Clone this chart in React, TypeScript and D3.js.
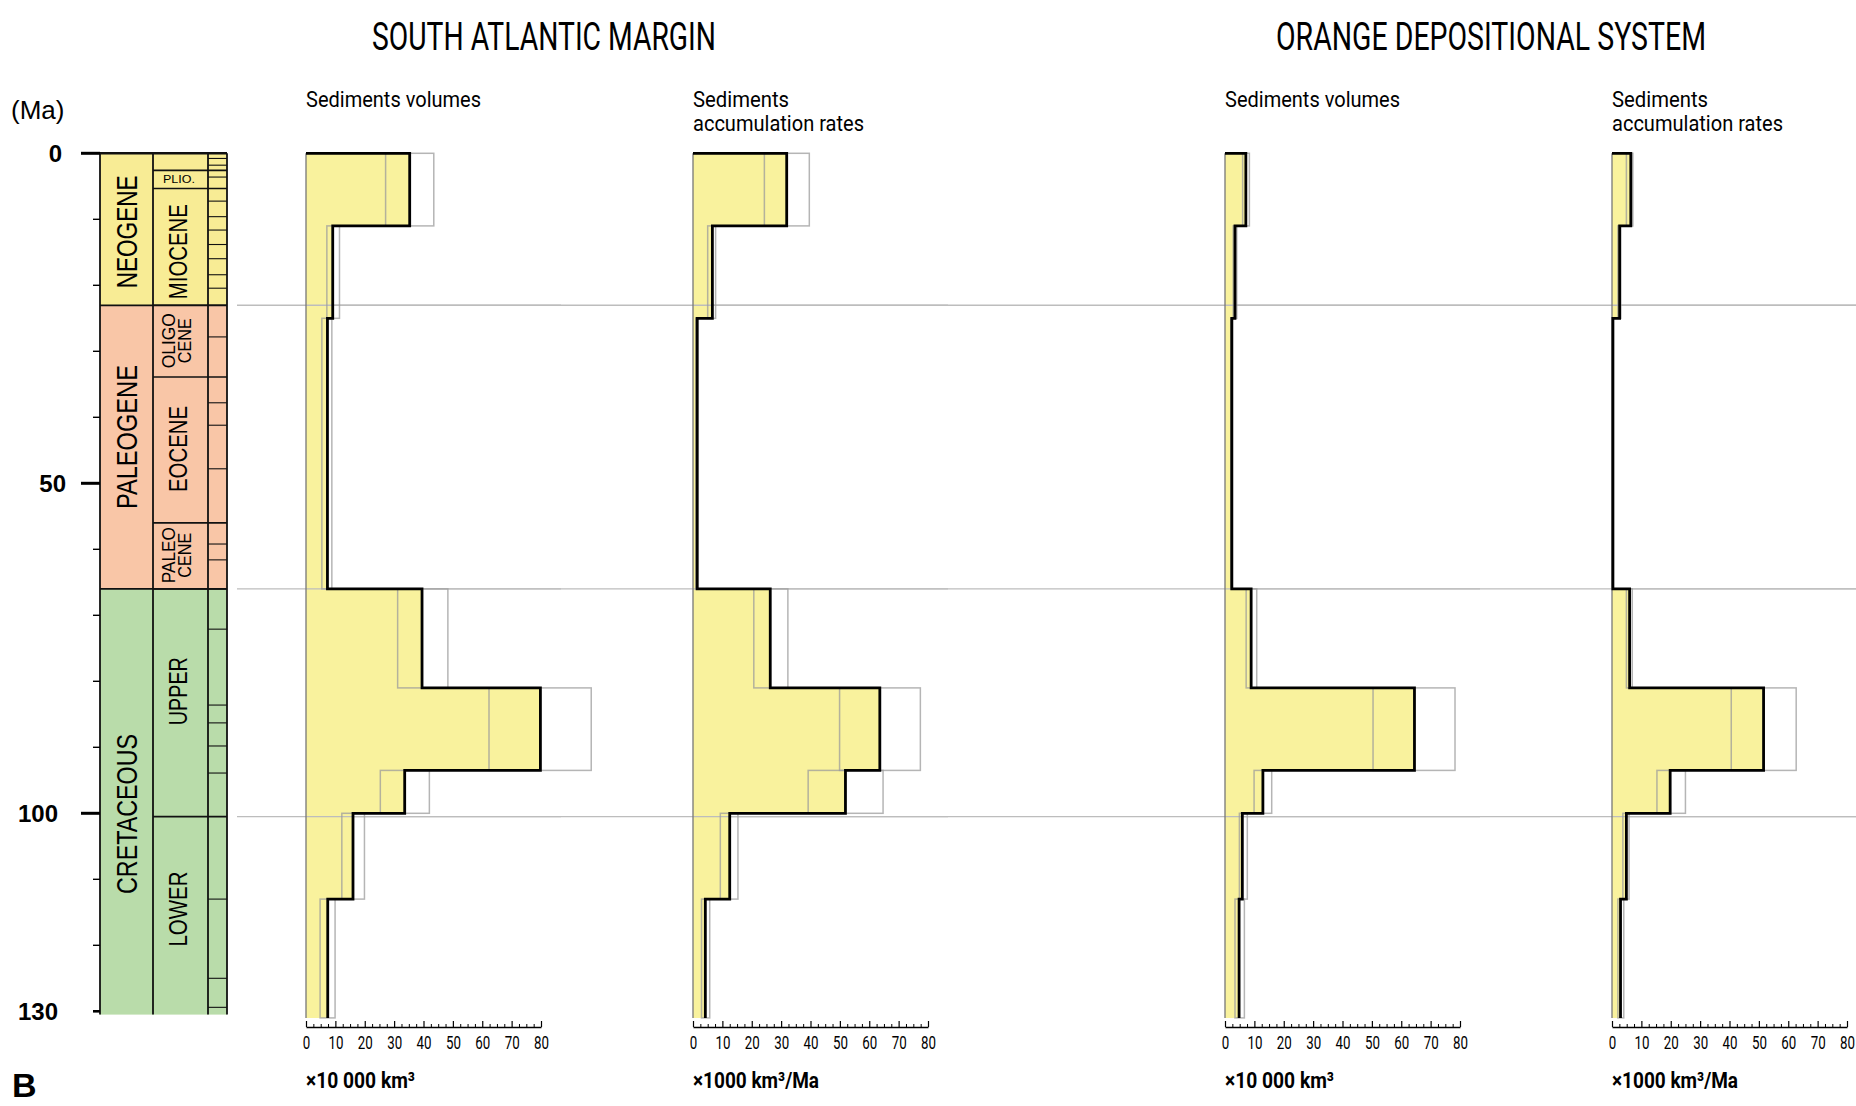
import React, { useEffect, useRef } from 'react';
import * as d3 from 'd3';

const W = 1856, H = 1106;

// ---- geological time scale (Ma) ----
const periodNames = ['NEOGENE', 'PALEOGENE', 'CRETACEOUS'];
const periodBounds = [0, 23.03, 66, 130.5];
const periodColors = ['#F8EC95', '#F9C6A7', '#B9DCAA'];
const periodLabelMa = [11.9, 43, 100.1];
const periodLabelLen = [113, 144, 160];

const epochNames = ['', 'PLIO.', 'MIOCENE', 'OLIGO|CENE', 'EOCENE', 'PALEO|CENE', 'UPPER', 'LOWER'];
const epochBounds = [0, 2.58, 5.333, 23.03, 33.9, 56, 66, 100.5, 130.5];
const epochLabelMa = [1.3, 3.95, 14.9, 28.4, 44.8, 60.9, 81.5, 114.5];
const epochLabelLen = [0, 32, 95, 55, 86, 56, 68, 75];

const stageBounds = [0.781, 1.8, 3.6, 7.246, 9.6, 11.63, 13.82, 15.97, 18.4, 20.44,
  27.82, 37.8, 41.2, 47.8, 59.2, 61.6, 72.1, 83.6, 86.3, 89.8, 93.9, 113, 125, 129.4];

const ageMajor = [0, 50, 100];
const ageMinor = [10, 20, 30, 40, 60, 70, 80, 90, 110, 120];
const ageLabels = ['0', '50', '100', '130'];
const ageLabelValues = [0, 50, 100, 130];
const boundaryLines = [23.03, 66, 100.5];

// ---- sediment bins (Ma) ----
const binTop = [0, 11, 25, 66, 81, 93.5, 100, 113];
const binBase = [11, 25, 66, 81, 93.5, 100, 113, 131];

// South Atlantic margin
const samVolMain = [35.3, 9.1, 7.3, 39.5, 79.8, 33.6, 16.0, 7.4];
const samVolMin = [27.1, 7.1, 5.4, 31.2, 62.3, 25.3, 12.2, 4.8];
const samVolMax = [43.5, 11.4, 8.8, 48.3, 97.1, 42.0, 19.9, 9.9];
const samRateMain = [31.9, 6.6, 1.4, 26.3, 63.6, 51.9, 12.5, 4.2];
const samRateMin = [24.3, 5.0, 1.0, 20.7, 49.9, 39.2, 9.3, 2.9];
const samRateMax = [39.6, 7.7, 1.8, 32.3, 77.4, 64.7, 15.3, 5.7];

// Orange depositional system
const odsVolMain = [7.1, 3.4, 2.3, 8.9, 64.5, 12.9, 5.9, 4.8];
const odsVolMin = [6.0, 2.8, 2.0, 7.2, 50.4, 9.9, 4.9, 3.4];
const odsVolMax = [8.3, 4.0, 2.6, 10.8, 78.3, 15.9, 7.6, 6.6];
const odsRateMain = [6.4, 2.6, 0.3, 6.0, 51.6, 19.8, 4.9, 2.9];
const odsRateMin = [4.9, 2.0, 0.2, 4.9, 40.6, 15.3, 3.7, 2.0];
const odsRateMax = [7.1, 3.0, 0.5, 6.9, 62.7, 25.0, 5.8, 4.0];

const xTicks = [0, 10, 20, 30, 40, 50, 60, 70, 80];
const xMinorTicks = d3.range(0, 80.1, 2.5).filter(v => v % 10 !== 0);

const groupTitles = ['SOUTH ATLANTIC MARGIN', 'ORANGE DEPOSITIONAL SYSTEM'];
const volTitle = ['Sediments volumes'];
const rateTitle = ['Sediments', 'accumulation rates'];
const volUnit = '×10 000 km³';
const rateUnit = '×1000 km³/Ma';

const panels = [
  { x0: 306, title: volTitle, unit: volUnit, main: samVolMain, min: samVolMin, max: samVolMax },
  { x0: 693, title: rateTitle, unit: rateUnit, main: samRateMain, min: samRateMin, max: samRateMax },
  { x0: 1225, title: volTitle, unit: volUnit, main: odsVolMain, min: odsVolMin, max: odsVolMax },
  { x0: 1612, title: rateTitle, unit: rateUnit, main: odsRateMain, min: odsRateMin, max: odsRateMax },
];

const COND = 'Roboto, "Open Sans", sans-serif';
const ARIAL = '"Liberation Sans", Arial, sans-serif';

const y = d3.scaleLinear().domain([0, 130]).range([153.3, 1011.3]);
const colX = [100, 153, 208, 227];
const axisY = 1027;

function Panel({ p }: { p: typeof panels[0] }) {
  const axRef = useRef<SVGGElement>(null);
  const minorRef = useRef<SVGGElement>(null);
  const x = d3.scaleLinear().domain([0, 80]).range([p.x0, p.x0 + 235]);

  useEffect(() => {
    const ax = d3.select(axRef.current);
    ax.selectAll('*').remove();
    ax.call(d3.axisBottom(x).tickValues(xTicks).tickSize(-6).tickSizeOuter(0).tickPadding(9).tickFormat(d3.format('d')) as any);
    ax.select('.domain').attr('stroke', '#000').attr('stroke-width', 1.3);
    ax.selectAll('.tick line').attr('stroke', '#000').attr('stroke-width', 1.2);
    ax.selectAll('.tick text')
      .attr('font-family', COND).attr('font-size', 18).attr('fill', '#000')
      .attr('transform', 'scale(0.74,1)');
    const mn = d3.select(minorRef.current);
    mn.selectAll('*').remove();
    mn.call(d3.axisBottom(x).tickValues(xMinorTicks).tickSize(-3).tickSizeOuter(0).tickFormat(() => '') as any);
    mn.select('.domain').remove();
    mn.selectAll('.tick line').attr('stroke', '#000').attr('stroke-width', 1);
  });

  const pts = binTop.map((t, i) => ({ t, v: p.main[i] }));
  pts.push({ t: binBase[binBase.length - 1], v: p.main[p.main.length - 1] });
  const area = d3.area<{ t: number; v: number }>()
    .y(d => y(d.t)).x0(x(0)).x1(d => x(d.v)).curve(d3.curveStepBefore);
  const line = d3.line<{ t: number; v: number }>()
    .x(d => x(d.v)).y(d => y(d.t)).curve(d3.curveStepBefore);
  const outline = [{ t: 0, v: 0 }, ...pts];

  return (
    <g>
      <path d={area(pts) || ''} fill="#F9F29D" />
      {boundaryLines.map((b, i) => (
        <line key={'b' + i} x1={x(0)} x2={x(80) + 20} y1={y(b)} y2={y(b)} stroke="#bdbdbd" strokeWidth={1.4} />
      ))}
      {binTop.map((t, i) => (
        <rect key={i} x={x(p.min[i])} y={y(t)} width={x(p.max[i]) - x(p.min[i])} height={y(binBase[i]) - y(t)}
          fill="none" stroke="#9c9c9c" strokeOpacity={0.75} strokeWidth={1.5} />
      ))}
      <line x1={x(0)} x2={x(0)} y1={y(0)} y2={y(131)} stroke="#777" strokeWidth={1.3} />
      <path d={line(outline) || ''} fill="none" stroke="#000" strokeWidth={2.8} strokeLinejoin="miter" />
      <g ref={axRef} transform={`translate(0,${axisY})`} />
      <g ref={minorRef} transform={`translate(0,${axisY})`} />
      {p.title.map((s, i) => (
        <text key={'t' + i} x={x(0)} y={107 + i * 24} fontFamily={COND} fontSize={22}
          textLength={s === 'Sediments volumes' ? 175 : s === 'Sediments' ? 96 : 171} lengthAdjust="spacingAndGlyphs">{s}</text>
      ))}
      <text x={x(0)} y={1088} fontFamily={COND} fontWeight="bold" fontSize={22}
        textLength={p.unit === volUnit ? 109 : 126} lengthAdjust="spacingAndGlyphs">{p.unit}</text>
    </g>
  );
}

function TimeColumn() {
  const yTop = y(0), yBot = y(130.5);
  return (
    <g>
      {periodNames.map((n, i) => (
        <rect key={n} x={colX[0]} width={colX[3] - colX[0]} y={y(periodBounds[i])}
          height={y(periodBounds[i + 1]) - y(periodBounds[i])} fill={periodColors[i]} />
      ))}
      {stageBounds.map((s, i) => (
        <line key={'s' + i} x1={colX[2]} x2={colX[3]} y1={y(s)} y2={y(s)} stroke="#111" strokeWidth={1.1} />
      ))}
      {epochBounds.slice(1, -1).map((e, i) => (
        <line key={'e' + i} x1={colX[1]} x2={colX[3]} y1={y(e)} y2={y(e)} stroke="#111" strokeWidth={1.6} />
      ))}
      {periodBounds.slice(1, -1).map((b, i) => (
        <line key={'p' + i} x1={colX[0]} x2={colX[3]} y1={y(b)} y2={y(b)} stroke="#111" strokeWidth={1.8} />
      ))}
      {colX.map((cx, i) => (
        <line key={'c' + i} x1={cx} x2={cx} y1={yTop} y2={yBot} stroke="#111" strokeWidth={1.8} />
      ))}
      <line x1={colX[0]} x2={colX[3]} y1={yTop} y2={yTop} stroke="#111" strokeWidth={2.5} />
      {/* age ticks */}
      {ageMajor.map(a => (
        <line key={'M' + a} x1={81} x2={colX[0]} y1={y(a)} y2={y(a)} stroke="#000" strokeWidth={3} />
      ))}
      <line x1={93} x2={colX[0]} y1={y(130)} y2={y(130)} stroke="#000" strokeWidth={2.6} />
      {ageMinor.map(a => (
        <line key={'m' + a} x1={93} x2={colX[0]} y1={y(a)} y2={y(a)} stroke="#000" strokeWidth={1.4} />
      ))}
      {ageLabels.map((l, i) => (
        <text key={l} x={[62, 66, 58, 58][i]} y={y(ageLabelValues[i]) + 8.5} textAnchor="end"
          fontFamily={ARIAL} fontWeight="bold" fontSize={24}>{l}</text>
      ))}
      <text x={11} y={119} fontFamily={ARIAL} fontSize={26}>(Ma)</text>
      {/* period labels */}
      {periodNames.map((n, i) => (
        <text key={'pl' + n} transform={`translate(137,${y(periodLabelMa[i])}) rotate(-90)`} textAnchor="middle"
          fontFamily={ARIAL} fontSize={30} textLength={periodLabelLen[i]} lengthAdjust="spacingAndGlyphs">{n}</text>
      ))}
      {/* epoch labels */}
      {epochNames.map((n, i) => {
        if (!n) return null;
        if (n === 'PLIO.') {
          return <text key={n} x={179} y={y(epochLabelMa[i]) + 4} textAnchor="middle" fontFamily={ARIAL}
            fontSize={11} textLength={epochLabelLen[i]} lengthAdjust="spacingAndGlyphs">{n}</text>;
        }
        const parts = n.split('|');
        if (parts.length === 2) {
          return (
            <g key={n}>
              <text transform={`translate(175,${y(epochLabelMa[i])}) rotate(-90)`} textAnchor="middle" fontFamily={ARIAL}
                fontSize={19} textLength={epochLabelLen[i]} lengthAdjust="spacingAndGlyphs">{parts[0]}</text>
              <text transform={`translate(190.5,${y(epochLabelMa[i])}) rotate(-90)`} textAnchor="middle" fontFamily={ARIAL}
                fontSize={19} textLength={45} lengthAdjust="spacingAndGlyphs">{parts[1]}</text>
            </g>
          );
        }
        return <text key={n} transform={`translate(187,${y(epochLabelMa[i])}) rotate(-90)`} textAnchor="middle"
          fontFamily={ARIAL} fontSize={25} textLength={epochLabelLen[i]} lengthAdjust="spacingAndGlyphs">{n}</text>;
      })}
    </g>
  );
}

export default function App() {
  return (
    <svg width={W} height={H} style={{ position: 'absolute', left: 0, top: 0, background: '#fff' }}>
      <rect width={W} height={H} fill="#fff" />
      {boundaryLines.map((b, i) => (
        <line key={i} x1={237} x2={W} y1={y(b)} y2={y(b)} stroke="#bdbdbd" strokeWidth={1.4} />
      ))}
      <TimeColumn />
      {panels.map((p, i) => <Panel key={i} p={p} />)}
      <text x={372} y={50} fontFamily={COND} fontSize={38} textLength={344} lengthAdjust="spacingAndGlyphs">{groupTitles[0]}</text>
      <text x={1276} y={50} fontFamily={COND} fontSize={38} textLength={430} lengthAdjust="spacingAndGlyphs">{groupTitles[1]}</text>
      <text x={12} y={1097} fontFamily={ARIAL} fontWeight="bold" fontSize={34}>B</text>
    </svg>
  );
}
